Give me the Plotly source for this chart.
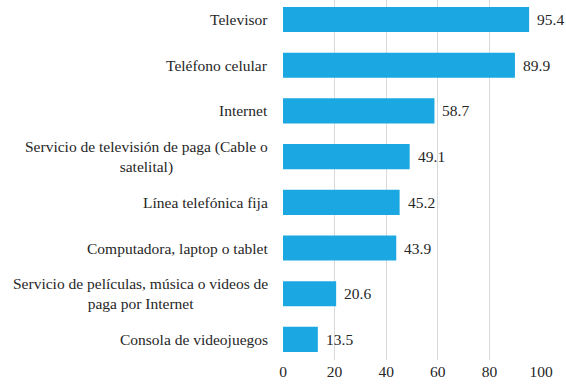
import plotly.graph_objects as go

categories = [
    "Televisor",
    "Teléfono celular",
    "Internet",
    "Servicio de televisión de paga (Cable o<br>satelital)",
    "Línea telefónica fija",
    "Computadora, laptop o tablet",
    "Servicio de películas, música o videos de<br>paga por Internet",
    "Consola de videojuegos",
]
values = [95.4, 89.9, 58.7, 49.1, 45.2, 43.9, 20.6, 13.5]
x_ticks = [0, 20, 40, 60, 80, 100]

FONT = "Liberation Serif"
TEXT = "#262626"
FS = 15.5

fig = go.Figure(
    go.Bar(
        x=values,
        y=list(range(len(categories))),
        orientation="h",
        marker=dict(color="#1BA7E1", line=dict(width=0)),
        width=0.55,
        hoverinfo="skip",
    )
)

for i, c in enumerate(categories):
    fig.add_annotation(
        x=0, xref="paper", y=i, yref="y",
        text=c, showarrow=False, xanchor="right", yanchor="middle",
        align="center", xshift=-13,
        font=dict(family=FONT, size=FS, color=TEXT),
    )
for i, v in enumerate(values):
    fig.add_annotation(
        x=v, xref="x", y=i, yref="y",
        text=f"{v:.1f}", showarrow=False, xanchor="left", yanchor="middle",
        xshift=6,
        font=dict(family=FONT, size=FS, color=TEXT),
    )

fig.update_layout(
    width=566, height=391,
    margin=dict(l=283, r=25, t=0, b=31),
    paper_bgcolor="white", plot_bgcolor="white",
    showlegend=False,
    font=dict(family=FONT, size=FS, color=TEXT),
    xaxis=dict(
        range=[0, 100], tickvals=x_ticks, showgrid=True, gridcolor="#D9D9D9",
        gridwidth=1, zeroline=False, showline=False, ticks="",
        tickfont=dict(family=FONT, size=FS, color=TEXT),
    ),
    yaxis=dict(
        range=[7.45, -0.427], showticklabels=False, showgrid=False,
        zeroline=False, showline=False, ticks="",
    ),
)

fig.write_html(
    "out.html",
    config={"displayModeBar": False},
    post_script="document.body.style.margin='0';",
)
